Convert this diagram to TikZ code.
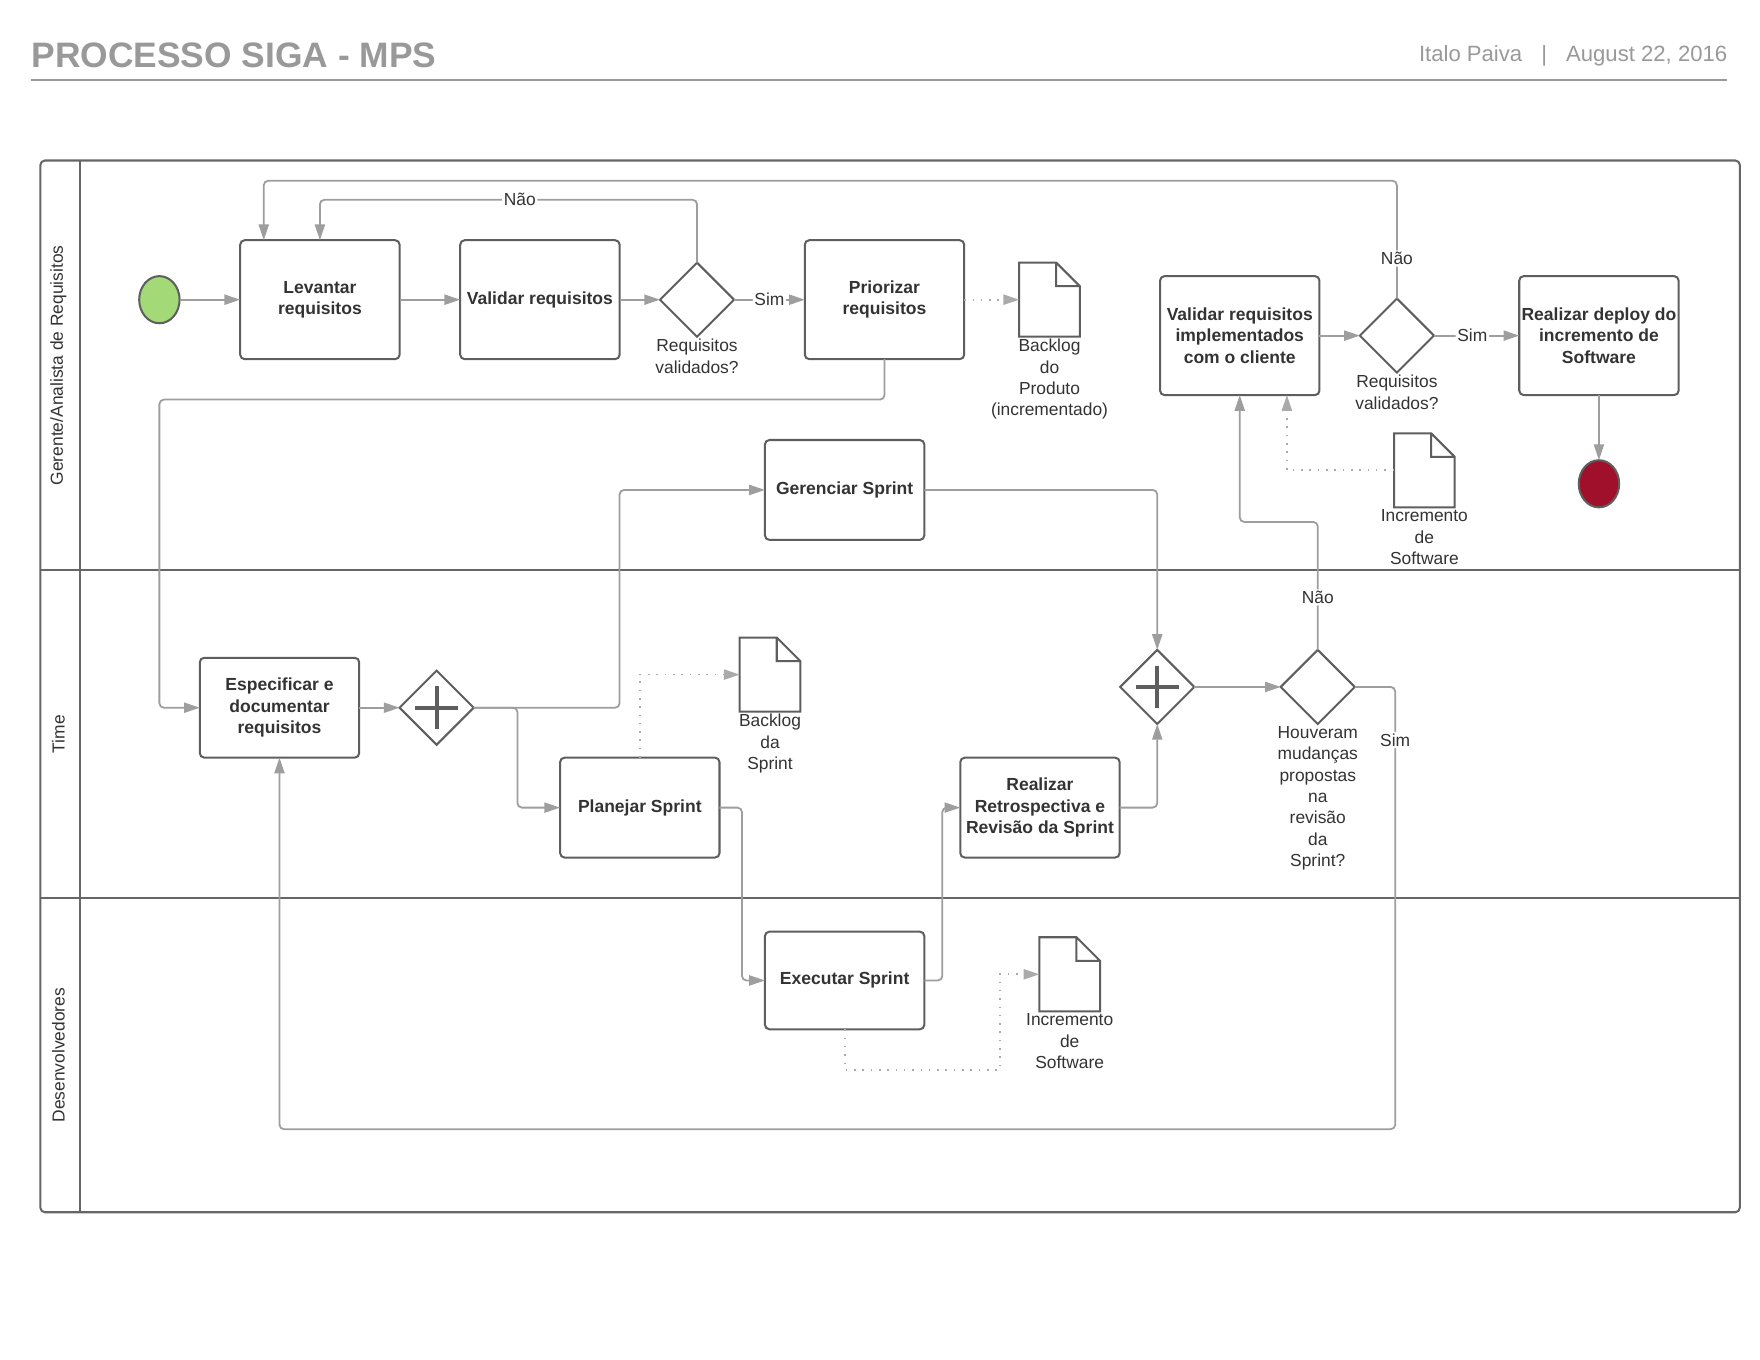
\documentclass[tikz,border=0pt]{standalone}
\usepackage{fontspec}
\setmainfont{Liberation Sans}
\usetikzlibrary{positioning,shapes.geometric,arrows.meta}
\definecolor{headgray}{HTML}{999999}
\definecolor{framegray}{HTML}{666666}
\definecolor{shapegray}{HTML}{5E5E5E}
\definecolor{linegray}{HTML}{9E9E9E}
\definecolor{dotgray}{HTML}{AAAAAA}
\definecolor{textdark}{HTML}{333333}
\definecolor{startgreen}{HTML}{A3D977}
\definecolor{endred}{HTML}{A0102A}
\newcommand{\taskfont}{\fontsize{15.6}{19}\selectfont\bfseries}
\newcommand{\lblfont}{\fontsize{15.5}{19}\selectfont}

\begin{document}
\begin{tikzpicture}[x=1pt,y=-1pt,label distance=2pt,
  task/.style={draw=shapegray, line width=1.8pt, fill=white, rounded corners=4pt, minimum width=142pt, minimum height=106pt, inner sep=0pt, outer sep=0pt, align=center, font=\taskfont, text=textdark},
  low/.style={minimum height=89pt},
  gateway/.style={diamond, draw=shapegray, line width=1.8pt, fill=white, minimum width=66pt, minimum height=66pt, inner sep=0pt, outer sep=0pt},
  event/.style={ellipse, draw=shapegray, line width=1.8pt, minimum width=36pt, minimum height=42pt, inner sep=0pt, outer sep=0pt},
  doc/.style={minimum width=54pt, minimum height=66pt, inner sep=0pt, outer sep=0pt},
  glabel/.style={align=center, inner sep=0pt, font=\lblfont, text=textdark},
  lbl/.style={font=\lblfont, text=textdark, fill=white, inner sep=1.5pt},
  flow/.style={draw=linegray, line width=1.6pt, rounded corners=4pt, -{Triangle[length=14pt,width=9pt]}},
  dots/.style={flow, draw=dotgray, dash pattern=on 1.4pt off 6pt, rounded corners=0pt},
  docline/.style={draw=shapegray, line width=1.8pt, fill=white},
  plus/.style={draw=shapegray, line width=3.5pt},
  lane/.style={draw=framegray, line width=1.8pt}]
  \useasboundingbox (0,0) rectangle (1568,1211.6);
  \fill[white] (0,0) rectangle (1568,1211.6);

  \node[anchor=base west, font=\fontsize{31.5}{36}\selectfont\bfseries, text=headgray, inner sep=0pt](titulo) at (28,60){PROCESSO SIGA - MPS};
  \node[anchor=base east, font=\fontsize{19.7}{23}\selectfont, text=headgray, inner sep=0pt](autor) at (1539,55){Italo Paiva\hspace{17pt}|\hspace{17pt}August 22, 2016};
  \draw[headgray, line width=1.5pt] (28,71) -- (1539,71);

  \draw[lane, rounded corners=4pt] (36,143) rectangle (1550,1080);
  \draw[lane] (71,143) -- (71,1080) (36,508) -- (1550,508) (36,800) -- (1550,800);
  \node[rotate=90, font=\lblfont, text=textdark](gerente) at (52,325.5){Gerente/Analista de Requisitos};
  \node[rotate=90, font=\lblfont, text=textdark](time) at (52,654){Time};
  \node[rotate=90, font=\lblfont, text=textdark](devs) at (52,940){Desenvolvedores};

  \node[event, fill=startgreen](inicio) at (142,267){};
  \node[task](levantar) at (285,267){Levantar\\requisitos};
  \node[task](validar)[right=54pt of levantar]{Validar requisitos};
  \node[gateway, label={[glabel]below:{Requisitos\\validados?}}](gw1)[right=36pt of validar]{};
  \node[task](priorizar)[right=63pt of gw1]{Priorizar\\requisitos};
  \node[doc, label={[glabel]below:{Backlog\\do\\Produto\\(incrementado)}}](bprod)[right=49pt of priorizar]{};
  \node[task](valimpl) at (1104.5,299){Validar requisitos\\implementados\\com o cliente};
  \node[gateway, label={[glabel]below:{Requisitos\\validados?}}](gw2)[right=36pt of valimpl]{};
  \node[task](deploy)[right=76pt of gw2]{Realizar deploy do\\incremento de\\Software};
  \node[event, fill=endred](fim)[below=58pt of deploy]{};
  \node[doc, label={[glabel]below:{Incremento\\de\\Software}}](isw1) at (1269,419){};
  \node[task, low](gerenciar) at (752.5,436.5){Gerenciar Sprint};

  \node[task, low](especificar) at (249,630.5){Especificar e\\documentar\\requisitos};
  \node[gateway](pg1)[right=36pt of especificar]{};
  \node[task, low](planejar) at (570,719.5){Planejar Sprint};
  \node[doc, label={[glabel]below:{Backlog\\da\\Sprint}}](bsprint) at (686,601){};
  \node[task, low](retro) at (926.5,719.5){Realizar\\Retrospectiva e\\Revisão da Sprint};
  \node[gateway](pg2) at (1031,612){};
  \node[gateway, label={[glabel]below:{Houveram\\mudanças\\propostas\\na\\revisão\\da\\Sprint?}}](gw3)[right=77pt of pg2]{};

  \node[task, low, minimum height=87pt](executar) at (752.5,873.5){Executar Sprint};
  \node[doc, label={[glabel]below:{Incremento\\de\\Software}}](isw2) at (953,868){};

  \foreach \d in {bprod,isw1,bsprint,isw2}
    \draw[docline] (\d.north west) -- ([xshift=-21pt]\d.north east) -- ([yshift=-21pt]\d.north east) -- (\d.south east) -- (\d.south west) -- cycle
      ([xshift=-21pt]\d.north east) |- ([yshift=-21pt]\d.north east);
  \foreach \g in {pg1,pg2}
    \draw[plus] ([yshift=19pt]\g.center) -- ([yshift=-19pt]\g.center) ([xshift=-19pt]\g.center) -- ([xshift=19pt]\g.center);

  \draw[flow] (inicio) -- (levantar);
  \draw[flow] (levantar) -- (validar);
  \draw[flow] (validar) -- (gw1);
  \draw[flow] (gw1) -- node[lbl]{Sim} (priorizar);
  \draw[flow] (gw1.north) -- ++(0,-56) -| node[lbl,pos=0.235]{Não} (levantar.north);
  \draw[flow] (gw2.north) -- node[lbl,pos=0.34]{Não} ++(0,-105) -| ([xshift=-50pt]levantar.north);
  \draw[dots] (priorizar) -- (bprod);
  \draw[flow] (priorizar.south) -- ++(0,36) -| (inicio.center |- especificar.west) -- (especificar.west);
  \draw[flow] (valimpl) -- (gw2);
  \draw[flow] (gw2) -- node[lbl,pos=0.45]{Sim} (deploy);
  \draw[flow] (deploy) -- (fim);
  \draw[dots] (isw1.west) -| ([xshift=42pt]valimpl.south);
  \draw[flow] (gw3.north) -- node[lbl,pos=0.41]{Não} ++(0,-114) -| (valimpl.south);

  \draw[flow] (especificar) -- (pg1);
  \draw[flow] (pg1.east) -- ++(130,0) |- (gerenciar.west);
  \draw[flow] (pg1.east) -- ++(39,0) |- (planejar.west);
  \draw[dots] (planejar.north) |- (bsprint.west);
  \draw[flow] (planejar.east) -- ++(20,0) |- (executar.west);
  \draw[flow] (executar.east) -- ++(16,0) |- (retro.west);
  \draw[dots] (executar.south) -- ++(0,36) -| ([xshift=-35pt]isw2.west) -- (isw2.west);
  \draw[flow] (gerenciar.east) -| (pg2.north);
  \draw[flow] (retro.east) -| (pg2.south);
  \draw[flow] (pg2) -- (gw3);
  \draw[flow] (gw3.east) -- ++(36,0) -- node[lbl,pos=0.12]{Sim} ++(0,394) -| (especificar.south);
\end{tikzpicture}
\end{document}
